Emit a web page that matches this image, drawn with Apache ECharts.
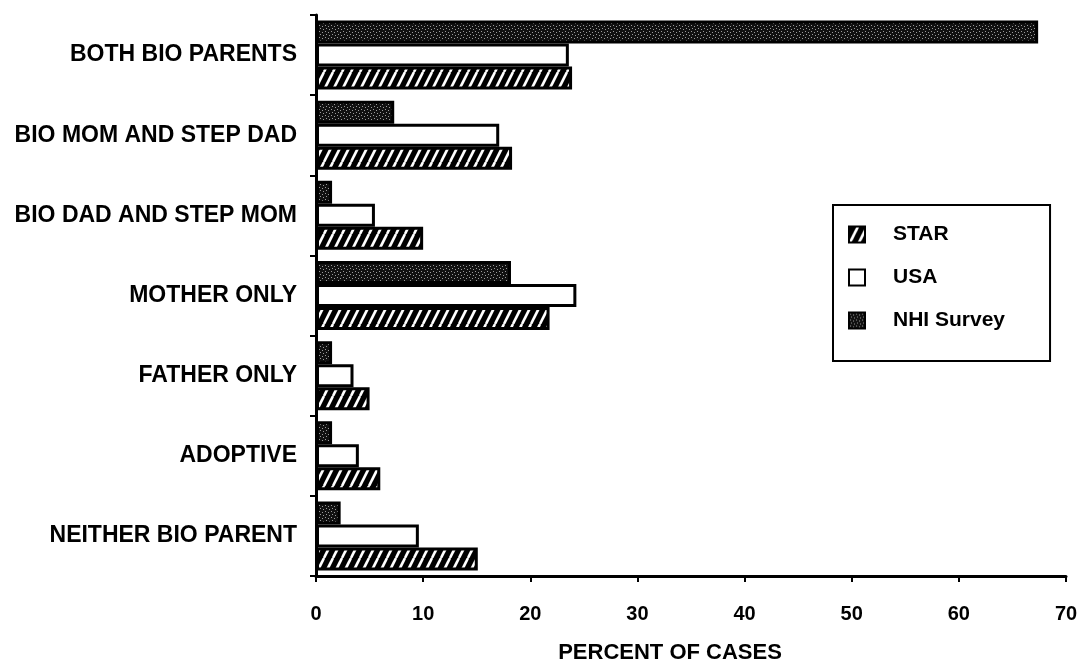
<!DOCTYPE html>
<html>
<head>
<meta charset="utf-8">
<script src="https://cdn.jsdelivr.net/npm/echarts@6/dist/echarts.min.js"></script>
<style>
html,body{margin:0;padding:0;background:#fff;}
#chart{width:1086px;height:662px;}
</style>
</head>
<body>
<div id="chart"></div>
<script>
// Data (top-to-bottom as in the picture)
const categories = ["BOTH BIO PARENTS","BIO MOM AND STEP DAD","BIO DAD AND STEP MOM","MOTHER ONLY","FATHER ONLY","ADOPTIVE","NEITHER BIO PARENT"];
const starValues = [23.9, 18.3, 10.0, 21.8, 5.0, 6.0, 15.1];
const usaValues  = [23.6, 17.1, 5.5, 24.3, 3.5, 4.0, 9.6];
const nhiValues  = [67.4, 7.3, 1.5, 18.2, 1.5, 1.5, 2.3];
const xTicks = [0,10,20,30,40,50,60,70];
const seriesNames = ["STAR","USA","NHI Survey"];
const axisTitle = "PERCENT OF CASES";

const FONT = "'Liberation Sans', Arial, Helvetica, sans-serif";

function hatchPattern(){
  const c = document.createElement('canvas');
  c.width = 9; c.height = 18;
  const g = c.getContext('2d');
  g.fillStyle = '#000'; g.fillRect(0,0,9,18);
  g.strokeStyle = '#fff'; g.lineWidth = 2.6;
  [-9,0,9].forEach(dx=>{
    g.beginPath(); g.moveTo(dx,18); g.lineTo(dx+9,0); g.stroke();
  });
  return c;
}
function dotPattern(){
  const c = document.createElement('canvas');
  c.width = 6; c.height = 6;
  const g = c.getContext('2d');
  g.fillStyle = '#111'; g.fillRect(0,0,6,6);
  g.fillStyle = '#9a9a9a';
  g.fillRect(1,1,1,1); g.fillRect(4,2,1,1); g.fillRect(2,4,1,1); g.fillRect(5,5,1,1);
  return c;
}

const catsBottomUp = categories.slice().reverse();
const rev = a => a.slice().reverse();

const chart = echarts.init(document.getElementById('chart'), null, {renderer:'canvas'});
chart.setOption({
  animation:false,
  backgroundColor:'#fff',
  grid:{left:316, right:20, top:15, bottom:86, containLabel:false, outerBoundsMode:'none'},
  legend:{
    orient:'vertical', left:833, top:205,
    data: seriesNames,
    icon:'rect', itemWidth:16, itemHeight:16, itemGap:22,
    borderColor:'#000', borderWidth:2,
    padding:[19,45,30,15],
    selectedMode:false,
    textStyle:{fontFamily:FONT, fontSize:21, fontWeight:'bold', color:'#000', padding:[0,0,0,23]}
  },
  xAxis:{
    type:'value', min:0, max:70, interval:10,
    axisLine:{show:true, lineStyle:{color:'#000', width:3}},
    axisTick:{show:true, length:6, lineStyle:{color:'#000', width:2}},
    splitLine:{show:false},
    axisLabel:{fontFamily:FONT, fontSize:20, fontWeight:'bold', color:'#000', margin:28,
      formatter: v => xTicks.includes(v) ? String(v) : ''},
    name: axisTitle, nameLocation:'middle', nameGap:66,
    nameTextStyle:{fontFamily:FONT, fontSize:22, fontWeight:'bold', color:'#000', padding:[0,42,0,0]}
  },
  yAxis:{
    type:'category', data:catsBottomUp,
    axisLine:{show:true, lineStyle:{color:'#000', width:3}},
    axisTick:{show:true, length:6, lineStyle:{color:'#000', width:2}},
    axisLabel:{fontFamily:FONT, fontSize:23, fontWeight:'bold', color:'#000', margin:19}
  },
  series:[
    {name:seriesNames[2], type:'bar', data:rev(nhiValues), barWidth:23, barGap:'0%',
     itemStyle:{color:{image:dotPattern(), repeat:'repeat'}, borderColor:'#000', borderWidth:3}},
    {name:seriesNames[1], type:'bar', data:rev(usaValues), barWidth:23, barGap:'0%',
     itemStyle:{color:'#fff', borderColor:'#000', borderWidth:3}},
    {name:seriesNames[0], type:'bar', data:rev(starValues), barWidth:23, barGap:'0%',
     itemStyle:{color:{image:hatchPattern(), repeat:'repeat'}, borderColor:'#000', borderWidth:3}}
  ]
});
</script>
</body>
</html>
